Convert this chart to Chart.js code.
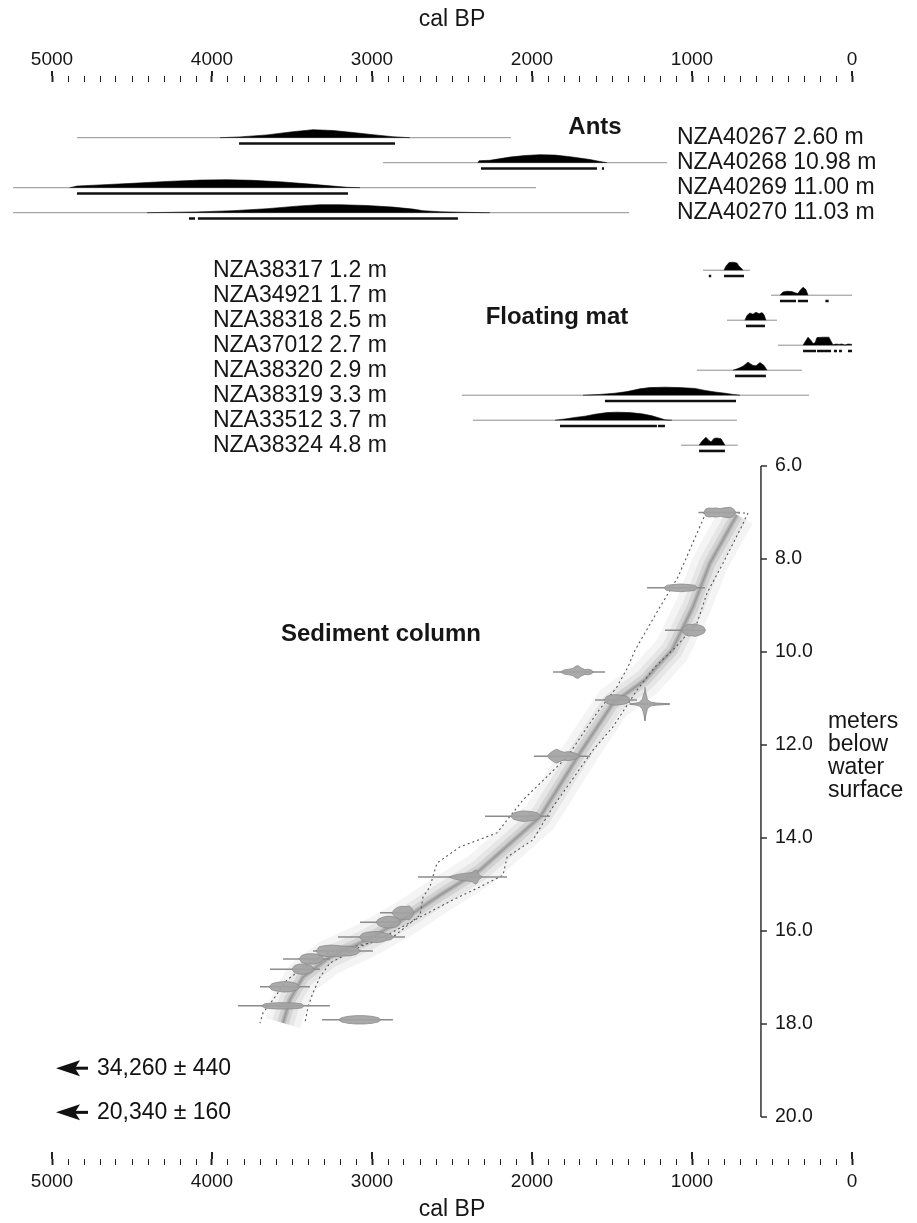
<!DOCTYPE html>
<html>
<head>
<meta charset="utf-8">
<script src="https://cdn.jsdelivr.net/npm/chart.js@4.4.1/dist/chart.umd.min.js"></script>
<style>
  html, body { margin: 0; padding: 0; background: #fff; }
  canvas { display: block; }
</style>
</head>
<body>
<canvas id="age-depth" width="917" height="1223"></canvas>
<script>
/* ---------- data (ages in cal BP, depths in m) ---------- */
const calLabels = [5000, 4000, 3000, 2000, 1000, 0];
const depthTicks = [6, 8, 10, 12, 14, 16, 18, 20];

/* ants: range of the thin line, probability profile [age, rel. density], 2-sigma bars */
const antsLabels = ["NZA40267 2.60 m", "NZA40268 10.98 m", "NZA40269 11.00 m", "NZA40270 11.03 m"];
const antsRange = [[4844, 2131], [2931, 1156], [5244, 1975], [5244, 1394]];
const antsProb = [
  [[3950, 0], [3825, 0.1], [3656, 0.35], [3494, 0.75], [3369, 1], [3244, 0.9], [3119, 0.65], [2994, 0.38], [2869, 0.12], [2763, 0]],
  [[2338, 0], [2330, 0.25], [2263, 0.3], [2138, 0.7], [2044, 0.9], [1950, 1], [1856, 0.95], [1763, 0.75], [1638, 0.4], [1575, 0.15], [1531, 0]],
  [[4888, 0], [4844, 0.2], [4700, 0.35], [4494, 0.55], [4281, 0.78], [4075, 0.95], [3906, 1], [3744, 0.92], [3556, 0.72], [3388, 0.45], [3244, 0.2], [3156, 0.05], [3075, 0]],
  [[4406, 0], [4094, 0.1], [3869, 0.25], [3656, 0.5], [3450, 0.85], [3325, 1], [3200, 1], [3031, 0.9], [2869, 0.7], [2744, 0.45], [2681, 0.25], [2575, 0.12], [2450, 0.06], [2338, 0.02], [2263, 0]]
];
const antsBars = [[[3831, 2856]], [[2319, 1594], [1563, 1550]], [[4844, 3150]], [[4144, 4106], [4088, 2463]]];

/* floating mat */
const matLabels = ["NZA38317 1.2 m", "NZA34921 1.7 m", "NZA38318 2.5 m", "NZA37012 2.7 m",
  "NZA38320 2.9 m", "NZA38319 3.3 m", "NZA33512 3.7 m", "NZA38324 4.8 m"];
const matRange = [[931, 638], [506, 0], [781, 469], [463, 0], [969, 313], [2438, 269], [2369, 719], [1069, 713]];
const matProb = [
  [[800, 0], [788, 0.5], [769, 0.95], [744, 1], [719, 0.9], [706, 0.5], [694, 0.3], [681, 0]],
  [[450, 0], [431, 0.4], [406, 0.5], [375, 0.45], [356, 0.3], [338, 0.2], [325, 0.6], [306, 1], [288, 0.7], [275, 0]],
  [[669, 0], [656, 0.6], [638, 0.9], [619, 0.75], [600, 1], [581, 0.8], [563, 0.95], [550, 0.7], [538, 0]],
  [[306, 0], [288, 0.6], [275, 1], [256, 0.6], [244, 0.2], [231, 0.3], [219, 0.95], [181, 1], [144, 1], [131, 0.5], [119, 0.05],
   [100, 0.15], [81, 0.1], [63, 0.15], [44, 0.02], [25, 0.15], [0, 0.1]],
  [[744, 0], [713, 0.2], [681, 0.5], [650, 1], [619, 0.6], [600, 0.55], [575, 0.95], [550, 0.6], [531, 0]],
  [[1681, 0], [1575, 0.1], [1481, 0.25], [1406, 0.45], [1325, 0.8], [1263, 0.95], [1169, 1], [1075, 0.95], [981, 0.85],
   [919, 0.6], [856, 0.4], [794, 0.25], [744, 0.1], [700, 0]],
  [[1856, 0], [1794, 0.15], [1731, 0.35], [1669, 0.5], [1606, 0.75], [1531, 0.95], [1469, 1], [1388, 0.95], [1313, 0.8],
   [1250, 0.55], [1200, 0.25], [1169, 0.05], [1125, 0]],
  [[956, 0], [938, 0.5], [913, 1], [894, 0.6], [881, 0.4], [863, 0.85], [844, 0.9], [819, 0.8], [806, 0.4], [794, 0]]
];
const matBars = [
  [[895, 880], [800, 675]],
  [[450, 350], [338, 275], [166, 146]],
  [[663, 544]],
  [[306, 225], [219, 131], [113, 94], [81, 63], [25, 0]],
  [[731, 538]],
  [[1544, 725]],
  [[1825, 1219], [1213, 1169]],
  [[956, 794]]
];

/* sediment column dates */
const sedDepth = [7.0, 8.62, 9.53, 10.43, 11.03, 11.12, 12.24, 13.53, 14.84, 15.61, 15.81, 16.13, 16.43, 16.6, 16.82, 17.2, 17.61, 17.91];
const sedRange = [[960, 700], [1281, 919], [1169, 919], [1869, 1544], [1606, 1344], [1388, 1138], [1988, 1638], [2294, 1888],
  [2713, 2156], [2950, 2744], [3075, 2825], [3213, 2794], [3369, 2994], [3556, 3263], [3638, 3325], [3700, 3388], [3838, 3263], [3313, 2869]];
const sedProb = [
  [[925, 0], [915, 0.5], [895, 0.65], [875, 0.6], [850, 0.65], [820, 0.55], [790, 0.7], [760, 0.75], [740, 0.5], [725, 0]],
  [[1175, 0], [1160, 0.35], [1130, 0.45], [1100, 0.5], [1070, 0.55], [1040, 0.5], [1010, 0.45], [980, 0.35], [965, 0]],
  [[1065, 0], [1055, 0.4], [1040, 0.7], [1020, 0.85], [1000, 0.8], [980, 0.9], [960, 0.75], [940, 0.6], [925, 0.4], [915, 0]],
  [[1820, 0], [1800, 0.3], [1770, 0.4], [1745, 0.5], [1725, 0.85], [1710, 0.9], [1695, 0.6], [1670, 0.35], [1650, 0.4], [1630, 0.3], [1615, 0]],
  [[1550, 0], [1535, 0.45], [1510, 0.7], [1480, 0.75], [1450, 0.7], [1420, 0.6], [1400, 0.4], [1385, 0]],
  [[1390, 0], [1360, 0.1], [1330, 0.25], [1310, 0.7], [1300, 1.6], [1294, 2.4], [1288, 1.6], [1278, 0.6], [1255, 0.25], [1220, 0.15], [1180, 0.1], [1140, 0]],
  [[1905, 0], [1890, 0.4], [1865, 0.8], [1845, 1.0], [1825, 0.75], [1800, 0.55], [1775, 0.65], [1750, 0.55], [1725, 0.4], [1700, 0]],
  [[2135, 0], [2115, 0.45], [2085, 0.65], [2055, 0.75], [2020, 0.7], [1990, 0.6], [1965, 0.45], [1945, 0]],
  [[2520, 0], [2490, 0.25], [2450, 0.45], [2410, 0.55], [2375, 0.65], [2355, 1.0], [2345, 0.9], [2330, 0.3], [2310, 0]],
  [[2875, 0], [2860, 0.5], [2840, 0.8], [2815, 0.95], [2790, 0.9], [2765, 1.0], [2750, 0.6], [2740, 0]],
  [[2975, 0], [2960, 0.45], [2935, 0.7], [2905, 0.85], [2875, 0.8], [2850, 0.7], [2830, 0.4], [2820, 0]],
  [[3080, 0], [3060, 0.5], [3030, 0.7], [3000, 0.75], [2970, 0.8], [2940, 0.7], [2910, 0.5], [2880, 0.35], [2865, 0]],
  [[3350, 0], [3330, 0.6], [3300, 0.75], [3260, 0.85], [3220, 0.8], [3180, 0.7], [3140, 0.7], [3100, 0.5], [3070, 0]],
  [[3455, 0], [3440, 0.5], [3410, 0.7], [3380, 0.75], [3350, 0.7], [3320, 0.45], [3300, 0]],
  [[3500, 0], [3485, 0.5], [3460, 0.7], [3430, 0.75], [3400, 0.65], [3375, 0.4], [3365, 0]],
  [[3645, 0], [3625, 0.45], [3590, 0.65], [3550, 0.75], [3510, 0.7], [3475, 0.5], [3450, 0]],
  [[3690, 0], [3670, 0.3], [3630, 0.4], [3580, 0.45], [3530, 0.45], [3480, 0.4], [3440, 0.3], [3425, 0]],
  [[3210, 0], [3190, 0.3], [3150, 0.5], [3100, 0.6], [3050, 0.6], [3000, 0.5], [2960, 0.3], [2945, 0]]
];

/* age-depth model: [age, depth] along the old / young envelope and the central path */
const modelOld = [[925, 7.10], [1088, 8.39], [1200, 9.03], [1356, 9.96], [1400, 10.32], [1469, 10.75], [1594, 11.31], [1781, 12.26],
  [2056, 13.18], [2219, 13.89], [2450, 14.19], [2594, 14.54], [2638, 15.05], [2681, 15.27], [2700, 15.66], [2869, 16.13],
  [3013, 16.26], [3263, 16.45], [3388, 16.69], [3531, 17.05], [3619, 17.48], [3681, 17.76], [3700, 17.98]];
const modelYoung = [[931, 7.01], [650, 7.01], [694, 7.33], [806, 8.09], [906, 8.73], [969, 9.38], [1106, 9.91], [1231, 10.32],
  [1344, 10.82], [1494, 11.61], [1619, 12.11], [1719, 12.60], [1869, 13.33], [1994, 14.04], [2156, 14.41], [2181, 14.80],
  [2325, 15.05], [2494, 15.33], [2700, 15.70], [2906, 16.09], [3075, 16.34], [3263, 16.69], [3325, 16.99], [3369, 17.33],
  [3400, 17.63], [3419, 17.98]];
const modelMid = [[719, 7.05], [888, 8.09], [994, 9.03], [1125, 9.96], [1294, 10.60], [1494, 11.10], [1700, 12.17], [1950, 13.55],
  [2325, 14.69], [2575, 15.23], [2781, 15.70], [3031, 16.19], [3263, 16.56], [3431, 16.99], [3513, 17.48], [3556, 17.98]];

/* dates beyond the axis, shown as arrows */
const offscaleAge = [34260, 20340];
const offscaleErr = [440, 160];
const offscaleDepth = [18.95, 19.9];

/* ---------- layout / style ---------- */
const fontFamily = "'Liberation Sans', Arial, Helvetica, sans-serif";
Chart.defaults.font.family = fontFamily;
Chart.defaults.color = "#161616";

const matRow0 = 5.3;      // first floating-mat row on the row axis
const probH = 0.32;       // height of a probability peak, in rows
const barOff = 0.23;      // 2-sigma bar below the row line
const blobH = 0.15;       // half height of a sediment blob per density unit (m)
const depthAxisAt = 569;  // cal BP position of the depth axis

const datasets = [];
function addLine(points, yAxisID, style) {
  datasets.push(Object.assign({
    type: "line", data: points, xAxisID: "x", yAxisID: yAxisID,
    pointRadius: 0, borderWidth: 1, borderColor: "#888", tension: 0,
    fill: false, clip: false
  }, style));
}
function segmentPoints(segs, y) {
  const pts = [];
  segs.forEach(([a, b], k) => {
    if (k) pts.push({ x: a, y: null });
    pts.push({ x: a, y: y }, { x: b, y: y });
  });
  return pts;
}
function addDateRow(range, prob, bars, row) {
  addLine(range.map(v => ({ x: v, y: row })), "yRow", { borderColor: "#8f8f8f", borderWidth: 1, order: 3 });
  addLine(prob.map(([v, p]) => ({ x: v, y: row - p * probH })), "yRow",
    { borderColor: "#000", borderWidth: 0.6, backgroundColor: "#000", fill: { value: row }, order: 2 });
  addLine(segmentPoints(bars, row + barOff), "yRow", { borderColor: "#111", borderWidth: 2.6, order: 1 });
}

antsLabels.forEach((_, i) => addDateRow(antsRange[i], antsProb[i], antsBars[i], i));
matLabels.forEach((_, i) => addDateRow(matRange[i], matProb[i], matBars[i], matRow0 + i));

/* grey model band drawn as stacked translucent strokes */
[[36, "rgba(0,0,0,0.045)"], [22, "rgba(0,0,0,0.06)"], [12, "rgba(0,0,0,0.09)"], [5, "rgba(0,0,0,0.13)"], [2, "rgba(0,0,0,0.15)"]].forEach(([w, c]) => {
  addLine(modelMid.map(([v, d]) => ({ x: v, y: d })), "yDepth",
    { borderColor: c, borderWidth: w, borderJoinStyle: "round", order: 9 });
});
[modelOld, modelYoung].forEach(env => {
  addLine(env.map(([v, d]) => ({ x: v, y: d })), "yDepth",
    { borderColor: "#555", borderWidth: 1.1, borderDash: [2, 3], order: 7 });
});
sedDepth.forEach((d, i) => {
  addLine(sedRange[i].map(v => ({ x: v, y: d })), "yDepth", { borderColor: "#8c8c8c", borderWidth: 1.5, order: 5 });
  addLine(sedProb[i].map(([v, p]) => ({ x: v, y: d - p * blobH })), "yDepth",
    { borderColor: "#8a8a8a", borderWidth: 0.8, order: 2 });
  addLine(sedProb[i].map(([v, p]) => ({ x: v, y: d + p * blobH })), "yDepth",
    { borderColor: "#8a8a8a", borderWidth: 0.8, backgroundColor: "rgba(163,163,163,0.92)", fill: "-1", order: 2 });
});

/* ---------- texts, depth axis, long major ticks ---------- */
const decor = {
  id: "decor",
  afterDraw(chart) {
    const { ctx } = chart;
    const { x, xb, yRow, yDepth } = chart.scales;
    const line = (x1, y1, x2, y2) => { ctx.beginPath(); ctx.moveTo(x1, y1); ctx.lineTo(x2, y2); ctx.stroke(); };
    ctx.save();
    ctx.strokeStyle = "#222";
    ctx.lineWidth = 2;
    calLabels.forEach(v => {
      const p = x.getPixelForValue(v);
      line(p, x.bottom - 6, p, x.bottom - 11);
      line(p, xb.top, p, xb.top - 7);
    });

    // depth axis
    const ax = x.getPixelForValue(depthAxisAt);
    ctx.lineWidth = 1.4;
    line(ax, yDepth.getPixelForValue(depthTicks[0]), ax, yDepth.getPixelForValue(depthTicks[depthTicks.length - 1]));
    ctx.fillStyle = "#161616";
    ctx.textBaseline = "middle";
    ctx.textAlign = "left";
    ctx.font = "19.5px " + fontFamily;
    depthTicks.forEach(d => {
      const py = yDepth.getPixelForValue(d);
      line(ax, py, ax + 6, py);
      ctx.fillText(d.toFixed(1), ax + 14, py);
    });
    ctx.font = "23px " + fontFamily;
    const y12 = yDepth.getPixelForValue(12);
    ["meters", "below", "water", "surface"].forEach((t, k) => ctx.fillText(t, ax + 67, y12 + (k - 1) * 23));

    // date labels
    const antsX = x.getPixelForValue(1094);
    antsLabels.forEach((t, i) => ctx.fillText(t, antsX, yRow.getPixelForValue(i)));
    const matX = x.getPixelForValue(3994);
    matLabels.forEach((t, i) => ctx.fillText(t, matX, yRow.getPixelForValue(matRow0 + i)));

    // group titles
    ctx.font = "bold 24px " + fontFamily;
    ctx.textAlign = "center";
    ctx.fillText("Ants", x.getPixelForValue(1606), yRow.getPixelForValue(-0.43));
    ctx.fillText("Floating mat", x.getPixelForValue(1844), yRow.getPixelForValue(7.2));
    ctx.fillText("Sediment column", x.getPixelForValue(2944), yDepth.getPixelForValue(9.63));

    // off-scale dates
    ctx.textAlign = "left";
    ctx.font = "23px " + fontFamily;
    ctx.fillStyle = "#111";
    const tip = x.getPixelForValue(4975);
    offscaleDepth.forEach((d, i) => {
      const py = yDepth.getPixelForValue(d);
      ctx.beginPath();
      ctx.moveTo(tip, py);
      ctx.lineTo(tip + 24, py - 8);
      ctx.lineTo(tip + 19, py);
      ctx.lineTo(tip + 24, py + 8);
      ctx.closePath();
      ctx.fill();
      ctx.fillRect(tip + 18, py - 1.5, 14, 3);
      ctx.fillText(offscaleAge[i].toLocaleString("en-US") + " \u00b1 " + offscaleErr[i], tip + 41, py);
    });
    ctx.restore();
  }
};

function calAxis(position, height, titlePadding) {
  return {
    type: "linear", position: position, reverse: true, min: 0, max: 5000,
    afterFit: s => { s.height = height; },
    afterBuildTicks: s => {
      const ticks = [];
      for (let v = 0; v <= 5000; v += 100) ticks.push({ value: v });
      s.ticks = ticks;
    },
    ticks: {
      autoSkip: false, maxRotation: 0, padding: 5, color: "#161616",
      font: { size: 19 },
      callback: v => (calLabels.includes(v) ? String(v) : "")
    },
    grid: {
      drawOnChartArea: false, tickLength: 6, tickColor: "#222",
      tickWidth: c => (c.tick && calLabels.includes(c.tick.value) ? 2 : 1)
    },
    border: { display: false },
    title: { display: true, text: "cal BP", color: "#161616", font: { size: 23 }, padding: titlePadding }
  };
}

new Chart(document.getElementById("age-depth"), {
  type: "line",
  data: { datasets: datasets },
  options: {
    responsive: false,
    animation: false,
    devicePixelRatio: 1,
    events: [],
    layout: { padding: { left: 52, right: 65, top: 0, bottom: 0 } },
    plugins: { legend: { display: false }, tooltip: { enabled: false } },
    scales: {
      x: calAxis("top", 82, { top: 6, bottom: 0 }),
      xb: calAxis("bottom", 64, { top: 0, bottom: 0 }),
      yRow: { type: "linear", display: false, reverse: true, min: -2.228, max: 40.852 },
      yDepth: { type: "linear", display: false, reverse: true, min: -2.258, max: 20.903 },
      y: { display: false }
    }
  },
  plugins: [decor]
});
</script>
</body>
</html>
